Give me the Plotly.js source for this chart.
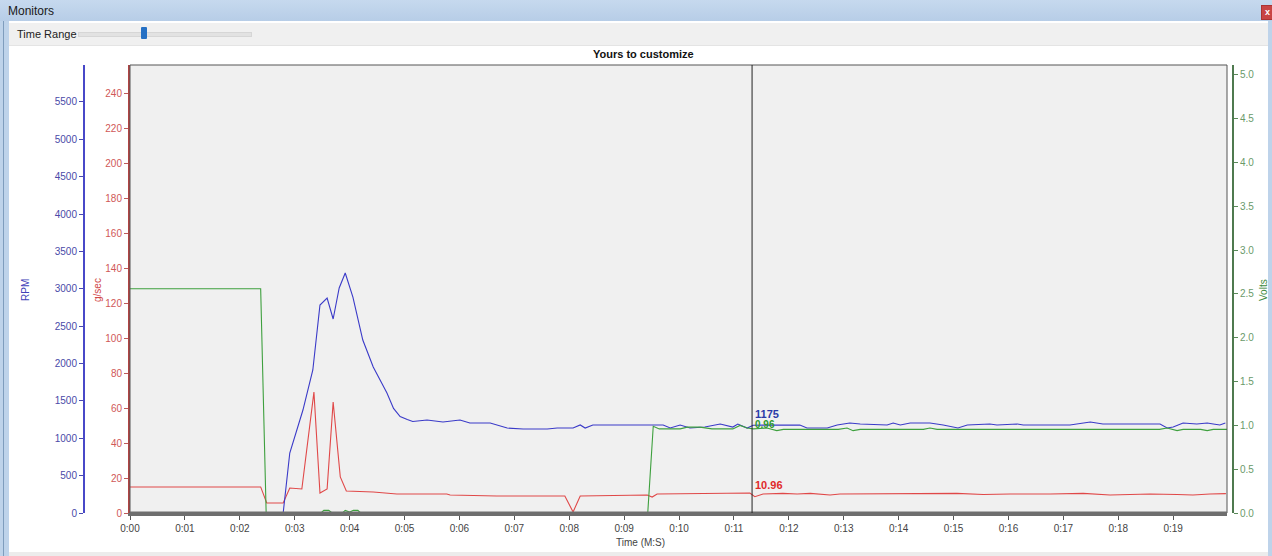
<!DOCTYPE html>
<html>
<head>
<meta charset="utf-8">
<script src="https://cdn.plot.ly/plotly-3.0.1.min.js"></script>
<style>
html,body{margin:0;padding:0;background:#fff;overflow:hidden;width:1272px;height:556px;font-family:"Liberation Sans",Arial,sans-serif}
#titlebar{position:absolute;left:0;top:0;width:1272px;height:21px;background:linear-gradient(to bottom,#c6d9ee,#b7cde7);}
#titlebar span{position:absolute;left:8px;top:4px;font-size:12px;color:#1a1a1a}
#close{position:absolute;left:1261px;top:5px;width:11px;height:13px;background:#c84444;border:1px solid #a33;color:#fff;font-size:9px;font-weight:bold;text-align:center;line-height:12px}
#leftstrip{position:absolute;left:0;top:21px;width:9px;height:535px;background:#bed3ea}
#leftline{position:absolute;left:3px;top:21px;width:1px;height:535px;background:#7f9dbd}
#rightstrip{position:absolute;left:1268px;top:21px;width:4px;height:535px;background:#bed3ea}
#bottomband{position:absolute;left:9px;top:552px;width:1259px;height:4px;background:#ececec}
#toolbar{position:absolute;left:9px;top:23px;width:1259px;height:22px;background:#f0f0f0;border-bottom:1px solid #e4e4e4}
#toolbar span{position:absolute;left:8px;top:5px;font-size:11px;color:#222}
#track{position:absolute;left:69px;top:9px;width:172px;height:3px;background:#e2e2e2;border:1px solid #d6d6d6}
#thumb{position:absolute;left:132px;top:4px;width:6px;height:12px;background:#2570c4;border-radius:1px}
#chart{position:absolute;left:0;top:0;width:1272px;height:556px}
</style>
</head>
<body>
<div id="titlebar"><span>Monitors</span><div id="close">x</div></div>
<div id="leftstrip"></div><div id="leftline"></div><div id="rightstrip"></div>
<div id="toolbar"><span>Time Range</span><div id="track"></div><div id="thumb"></div></div>
<div id="bottomband"></div>
<div id="chart"></div>
<script>
// ---- data (time in seconds) ----
const tickSeconds = [0,1,2,3,4,5,6,7,8,9,10,11,12,13,14,15,16,17,18,19];
const tickLabels = ['0:00','0:01','0:02','0:03','0:04','0:05','0:06','0:07','0:08','0:09','0:10','0:11','0:12','0:13','0:14','0:15','0:16','0:17','0:18','0:19'];

const rpmTime = [0,2.79,2.91,3.15,3.33,3.46,3.59,3.70,3.81,3.92,4.06,4.24,4.43,4.68,4.80,4.92,5.05,5.15,5.41,5.70,6.01,6.19,6.56,6.87,7.16,7.60,7.78,8.07,8.20,8.29,8.43,9.53,9.71,9.84,10.02,10.20,10.47,10.75,10.98,11.07,11.24,11.35,12.20,12.33,12.70,12.88,13.11,13.30,13.79,13.90,14.03,14.21,14.57,14.81,14.99,15.08,15.25,15.66,15.79,16.16,16.27,17.12,17.49,17.72,18.76,18.89,19.00,19.18,19.43,19.62,19.73,19.85,19.95];
const rpmValues = [0,0,803,1378,1914,2783,2877,2596,3011,3212,2890,2315,1954,1606,1400,1290,1250,1225,1244,1218,1244,1204,1204,1137,1124,1124,1137,1137,1178,1137,1178,1178,1178,1137,1178,1137,1150,1191,1150,1191,1137,1175,1178,1137,1137,1178,1204,1191,1178,1204,1178,1204,1204,1178,1150,1137,1178,1191,1178,1191,1178,1178,1218,1191,1191,1137,1150,1204,1191,1204,1191,1178,1204];

const gsecTime = [0,2.38,2.49,2.79,2.91,3.13,3.35,3.46,3.59,3.70,3.83,3.94,4.43,4.86,5.77,5.83,6.68,7.92,8.07,8.20,9.42,9.51,9.60,10.62,11.29,11.38,11.53,11.89,12.15,12.39,12.75,12.93,13.72,14.03,14.70,15.06,15.54,16.03,16.76,17.36,17.85,18.58,19.07,19.36,19.67,19.96];
const gsecValues = [14.9,14.9,5.7,5.7,14.3,13.7,69.1,11.4,13.7,63.4,20.6,12.6,12.0,10.9,10.9,10.3,9.7,9.7,0.6,9.7,10.3,9.1,10.9,11.4,11.4,9.3,10.9,11.2,10.9,11.2,10.3,10.9,10.9,11.2,10.9,11.2,10.6,10.9,10.9,11.2,10.3,10.9,10.6,10.3,10.9,11.1];

const voltTime = [0,2.38,2.48,3.48,3.53,3.62,3.68,3.87,3.92,4.00,4.07,4.15,4.20,9.43,9.53,9.64,10.02,10.15,10.38,10.60,10.98,11.11,11.24,11.35,11.60,11.78,11.90,12.90,13.06,13.17,13.30,14.45,14.57,14.70,18.75,18.89,19.07,19.18,19.50,19.62,19.73,19.98];
const voltValues = [2.56,2.56,0,0,0.03,0.03,0,0,0.03,0.01,0.03,0.03,0,0,0.99,0.96,0.96,0.98,0.98,0.96,0.96,1.00,0.97,0.96,0.97,0.94,0.955,0.955,0.97,0.94,0.955,0.955,0.97,0.955,0.955,0.97,0.94,0.955,0.955,0.94,0.955,0.955];

const cursorTime = 11.33;
const cursorRpm = 1175;
const cursorVolts = 0.96;
const cursorGsec = 10.96;

// ---- layout helpers (pixel -> paper) ----
const W = 1272, H = 556;
const X = p => p / W;
const Y = p => 1 - p / H;
const FONT = '"Liberation Sans", Arial, sans-serif';

const traces = [
  {x: gsecTime, y: gsecValues, yaxis: 'y', type: 'scatter', mode: 'lines', line: {color: '#e04848', width: 1.1}, hoverinfo: 'skip'},
  {x: voltTime, y: voltValues, yaxis: 'y3', type: 'scatter', mode: 'lines', line: {color: '#3ea03e', width: 1.1}, hoverinfo: 'skip'},
  {x: rpmTime, y: rpmValues, yaxis: 'y2', type: 'scatter', mode: 'lines', line: {color: '#3a3ac8', width: 1.1}, hoverinfo: 'skip'}
];

const layout = {
  width: W, height: H,
  margin: {l: 0, r: 0, t: 0, b: 0, pad: 0},
  paper_bgcolor: 'rgba(0,0,0,0)',
  plot_bgcolor: '#f0f0f0',
  showlegend: false,
  font: {family: FONT, size: 10, color: '#444'},
  xaxis: {
    domain: [X(130), X(1227)], range: [0, 19.98], anchor: 'y',
    tickvals: tickSeconds, ticktext: tickLabels,
    showline: true, linecolor: '#6e6e6e', linewidth: 3,
    ticks: 'outside', ticklen: 4, tickwidth: 1, tickcolor: '#555',
    tickfont: {family: FONT, size: 10, color: '#444'},
    showgrid: false, zeroline: false, fixedrange: true
  },
  yaxis: {
    domain: [Y(513), Y(65)], range: [0, 256], anchor: 'x', side: 'left',
    dtick: 20, showline: true, linecolor: '#b04444', linewidth: 2,
    ticks: 'outside', ticklen: 4, tickcolor: '#c05a5a',
    tickfont: {family: FONT, size: 10, color: '#d05858'},
    showgrid: false, zeroline: false, fixedrange: true
  },
  yaxis2: {
    overlaying: 'y', anchor: 'free', position: X(83), side: 'left',
    range: [0, 5995], dtick: 500, showline: true, linecolor: '#4848c8', linewidth: 1.5,
    ticks: 'outside', ticklen: 4, tickcolor: '#4848b0',
    tickfont: {family: FONT, size: 10, color: '#4a4aa8'},
    showgrid: false, zeroline: false, fixedrange: true
  },
  yaxis3: {
    overlaying: 'y', anchor: 'free', position: X(1233), side: 'right',
    range: [0, 5.114], dtick: 0.5, tickformat: '.1f', showline: true, linecolor: '#4f7a4f', linewidth: 2,
    ticks: 'outside', ticklen: 4, tickcolor: '#5a8a5a',
    tickfont: {family: FONT, size: 10, color: '#6a9a6a'},
    showgrid: false, zeroline: false, fixedrange: true
  },
  shapes: [
    {type: 'rect', xref: 'x domain', yref: 'y domain', x0: 0, x1: 1, y0: 0, y1: 1, line: {color: '#555', width: 1}, layer: 'above'},
    {type: 'line', xref: 'x domain', yref: 'y domain', x0: 0, x1: 1, y0: 0, y1: 0, line: {color: '#6e6e6e', width: 3}, layer: 'above'},
    {type: 'line', xref: 'x', yref: 'y domain', x0: cursorTime, x1: cursorTime, y0: 0, y1: 1, line: {color: '#222', width: 1}}
  ],
  annotations: [
    {xref: 'paper', yref: 'paper', x: X(643), y: Y(54), text: '<b>Yours to customize</b>', showarrow: false, xanchor: 'center', yanchor: 'middle', font: {family: FONT, size: 11, color: '#111'}},
    {xref: 'paper', yref: 'paper', x: X(25), y: Y(290), text: 'RPM', textangle: -90, showarrow: false, xanchor: 'center', yanchor: 'middle', font: {family: FONT, size: 10, color: '#4040b8'}},
    {xref: 'paper', yref: 'paper', x: X(97), y: Y(290), text: 'g/sec', textangle: -90, showarrow: false, xanchor: 'center', yanchor: 'middle', font: {family: FONT, size: 10, color: '#d04848'}},
    {xref: 'paper', yref: 'paper', x: X(1263), y: Y(290), text: 'Volts', textangle: -90, showarrow: false, xanchor: 'center', yanchor: 'middle', font: {family: FONT, size: 10, color: '#3e8a3e'}},
    {xref: 'paper', yref: 'paper', x: X(640), y: Y(542), text: 'Time (M:S)', showarrow: false, xanchor: 'center', yanchor: 'middle', font: {family: FONT, size: 10, color: '#444'}},
    {xref: 'x', yref: 'y3', x: cursorTime, y: cursorVolts, text: '<b>' + cursorVolts.toFixed(2) + '</b>', showarrow: false, xanchor: 'left', yanchor: 'bottom', xshift: 1, yshift: -3, font: {family: FONT, size: 10, color: '#2e9a2e'}},
    {xref: 'x', yref: 'y2', x: cursorTime, y: cursorRpm, text: '<b>' + cursorRpm + '</b>', showarrow: false, xanchor: 'left', yanchor: 'bottom', xshift: 1, yshift: 3, font: {family: FONT, size: 11, color: '#2a3aa8'}},
    {xref: 'x', yref: 'y', x: cursorTime, y: cursorGsec, text: '<b>' + cursorGsec.toFixed(2) + '</b>', showarrow: false, xanchor: 'left', yanchor: 'bottom', xshift: 1, yshift: 1, font: {family: FONT, size: 11, color: '#e02a2a'}}
  ]
};

Plotly.newPlot('chart', traces, layout, {staticPlot: true, displayModeBar: false});
</script>
</body>
</html>
